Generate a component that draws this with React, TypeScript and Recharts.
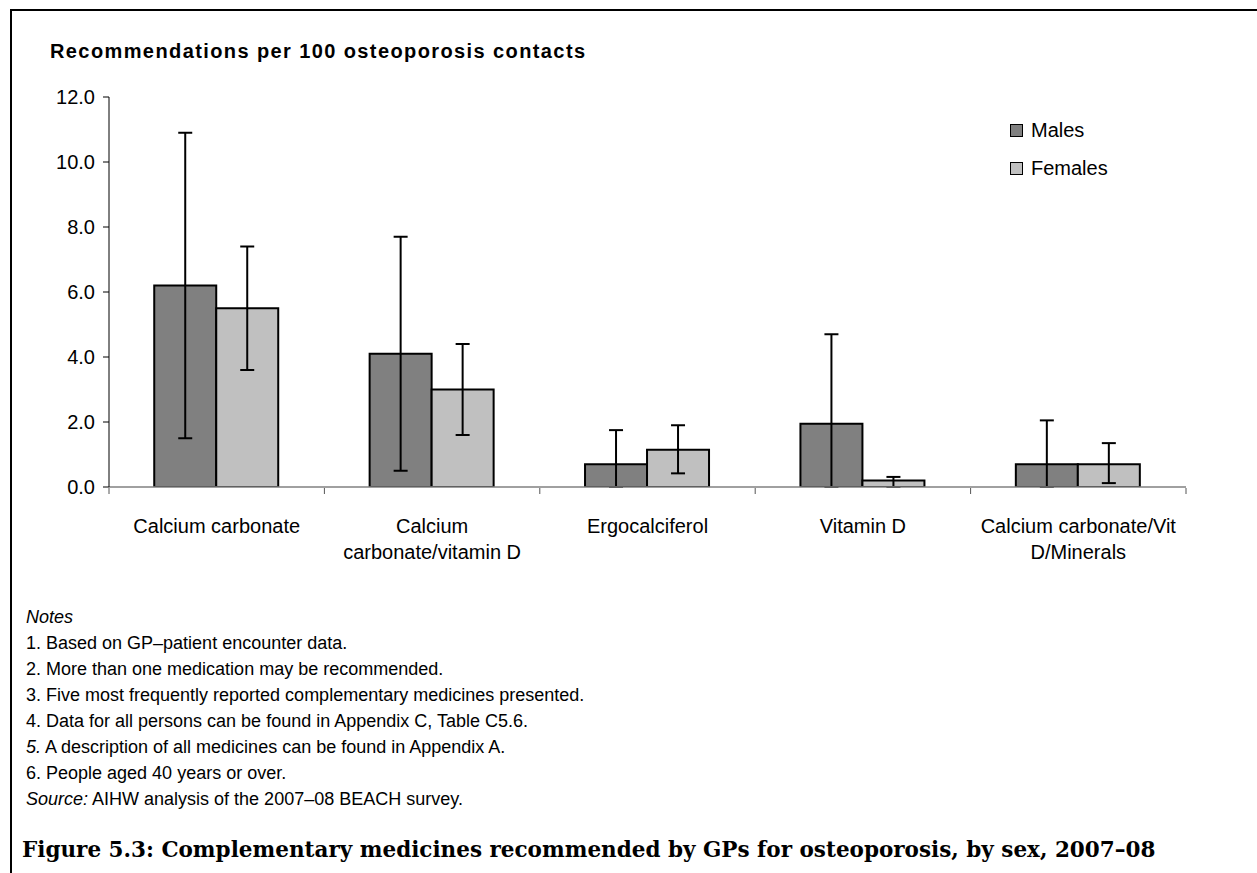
import React from 'react';
import { BarChart, Bar, XAxis, YAxis, ErrorBar, Legend } from 'recharts';

const categories = [
  'Calcium carbonate',
  'Calcium\ncarbonate/vitamin D',
  'Ergocalciferol',
  'Vitamin D',
  'Calcium carbonate/Vit\nD/Minerals',
];
const males = [6.2, 4.1, 0.7, 1.95, 0.7];
const malesLow = [1.5, 0.5, 0, 0, 0];
const malesHigh = [10.9, 7.7, 1.75, 4.7, 2.05];
const females = [5.5, 3.0, 1.15, 0.2, 0.7];
const femalesLow = [3.6, 1.6, 0.42, 0, 0.12];
const femalesHigh = [7.4, 4.4, 1.9, 0.31, 1.35];
const yTicks = [0, 2, 4, 6, 8, 10, 12];
const edgeTicks = [0, 1, 2, 3, 4, 5];

const title = 'Recommendations per 100 osteoporosis contacts';
const notes: { pre: string; preItalic: boolean; rest: string }[] = [
  { pre: 'Notes', preItalic: true, rest: '' },
  { pre: '', preItalic: false, rest: '1. Based on GP\u2013patient encounter data.' },
  { pre: '', preItalic: false, rest: '2. More than one medication may be recommended.' },
  { pre: '', preItalic: false, rest: '3. Five most frequently reported complementary medicines presented.' },
  { pre: '', preItalic: false, rest: '4. Data for all persons can be found in Appendix C, Table C5.6.' },
  { pre: '5.', preItalic: true, rest: ' A description of all medicines can be found in Appendix A.' },
  { pre: '', preItalic: false, rest: '6. People aged 40 years or over.' },
  { pre: 'Source:', preItalic: true, rest: ' AIHW analysis of the 2007\u201308 BEACH survey.' },
];
const caption = 'Figure 5.3: Complementary medicines recommended by GPs for osteoporosis, by sex, 2007\u201308';

const data = categories.map((name, i) => ({
  name,
  pos: i + 0.5,
  males: males[i],
  females: females[i],
  maleErr: [males[i] - malesLow[i], malesHigh[i] - males[i]],
  femaleErr: [females[i] - femalesLow[i], femalesHigh[i] - females[i]],
}));

const FONT = '"Liberation Sans", Arial, sans-serif';

const CategoryTick = (props: any) => {
  const { x, y, payload } = props;
  const lines = String(payload.value).split('\n');
  return (
    <text x={x} y={y} textAnchor="middle" fontFamily={FONT} fontSize={20} fill="#000">
      {lines.map((l, i) => (
        <tspan key={i} x={x} dy={i === 0 ? 46 : 26}>
          {l}
        </tspan>
      ))}
    </text>
  );
};

const LegendContent = (props: any) => {
  const { payload } = props;
  return (
    <div style={{ fontFamily: FONT, fontSize: 20, color: '#000' }}>
      {(payload || []).map((p: any, i: number) => (
        <div key={i} style={{ display: 'flex', alignItems: 'center', height: 38 }}>
          <span
            style={{
              display: 'inline-block',
              width: 11,
              height: 11,
              background: p.color,
              border: '1px solid #000',
              marginRight: 8,
            }}
          />
          <span>{p.value}</span>
        </div>
      ))}
    </div>
  );
};

export default function App() {
  return (
    <div
      style={{
        position: 'absolute',
        left: 0,
        top: 0,
        width: 1257,
        height: 873,
        background: '#fff',
        overflow: 'hidden',
      }}
    >
      <div style={{ position: 'absolute', left: 10, top: 9, width: 1247, height: 2, background: '#000' }} />
      <div style={{ position: 'absolute', left: 10, top: 9, width: 2, height: 864, background: '#000' }} />
      <div style={{ position: 'absolute', left: 0, top: 0 }}>
        <BarChart
          width={1257}
          height={600}
          data={data}
          margin={{ top: 97, right: 71, bottom: 111, left: 49 }}
          barCategoryGap="21%"
          barGap={0}
        >
          <XAxis
            dataKey="name"
            height={1}
            axisLine={{ stroke: '#808080', strokeWidth: 1.5 }}
            tickLine={false}
            tickSize={0}
            tickMargin={0}
            interval={0}
            tick={<CategoryTick />}
          />
          <XAxis
            xAxisId="edges"
            type="number"
            dataKey="pos"
            domain={[0, 5]}
            ticks={edgeTicks}
            interval={0}
            allowDataOverflow
            height={1}
            axisLine={false}
            tickLine={{ stroke: '#555', strokeWidth: 1 }}
            tickSize={6}
            tickFormatter={() => ''}
          />
          <YAxis
            domain={[0, 12]}
            ticks={yTicks}
            width={60}
            allowDataOverflow
            axisLine={{ stroke: '#000', strokeWidth: 1 }}
            tickLine={{ stroke: '#000', strokeWidth: 1 }}
            tickSize={6}
            tickMargin={8}
            tickFormatter={(v: number) => v.toFixed(1)}
            tick={{ fontFamily: FONT, fontSize: 20, fill: '#000' }}
          />
          <Legend
            layout="vertical"
            align="center"
            verticalAlign="middle"
            itemSorter={null as any}
            content={<LegendContent />}
            wrapperStyle={{ left: 1010, top: 111, right: 'auto', bottom: 'auto', width: 160, height: 80 }}
          />
          <Bar dataKey="males" name="Males" fill="#808080" stroke="#000" strokeWidth={2} isAnimationActive={false}>
            <ErrorBar dataKey="maleErr" width={7} stroke="#000" strokeWidth={2} isAnimationActive={false} />
          </Bar>
          <Bar dataKey="females" name="Females" fill="#C0C0C0" stroke="#000" strokeWidth={2} isAnimationActive={false}>
            <ErrorBar dataKey="femaleErr" width={7} stroke="#000" strokeWidth={2} isAnimationActive={false} />
          </Bar>
        </BarChart>
      </div>
      <svg
        width={1257}
        height={873}
        style={{ position: 'absolute', left: 0, top: 0, pointerEvents: 'none' }}
      >
        <text x={50} y={58} fontFamily={FONT} fontSize={20} fontWeight="bold" letterSpacing={1.4} fill="#000">
          {title}
        </text>
        {notes.map((n, i) => (
          <text key={i} x={26} y={623 + i * 26} fontFamily={FONT} fontSize={18} fill="#000">
            {n.pre && <tspan fontStyle="italic">{n.pre}</tspan>}
            {n.rest && <tspan>{n.rest}</tspan>}
          </text>
        ))}
        <text x={22} y={857} fontFamily='"DejaVu Serif", serif' fontSize={21.5} fontWeight="bold" fill="#000">
          {caption}
        </text>
      </svg>
    </div>
  );
}
